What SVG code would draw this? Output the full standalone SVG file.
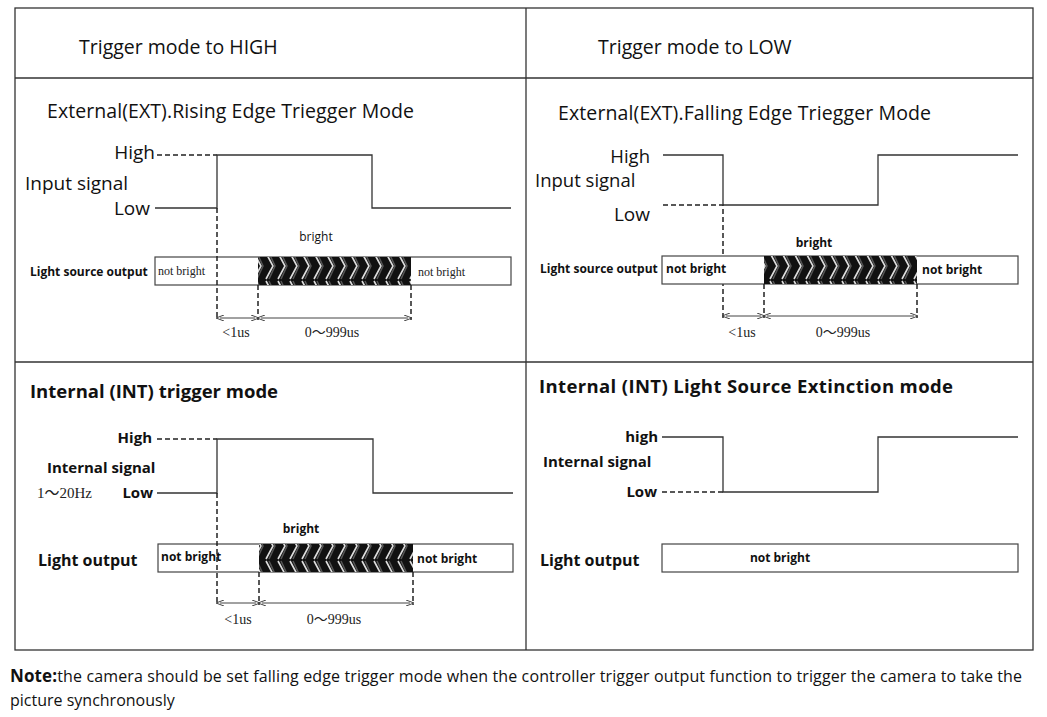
<svg xmlns="http://www.w3.org/2000/svg" width="1047" height="717" viewBox="0 0 1047 717">
<style>
.t{font-family:"Open Sans","Liberation Sans",sans-serif;fill:#111}
.s{font-family:"Liberation Serif","Noto Sans CJK SC",serif;fill:#222}
.b{font-weight:bold}
.ln{stroke:#333;stroke-width:1.3;fill:none}
.ds{stroke:#222;stroke-width:1.5;stroke-dasharray:5,3;fill:none}
.bx{stroke:#444;stroke-width:1.2;fill:#fff}
.dim{stroke:#444;stroke-width:1;fill:none;marker-start:url(#a);marker-end:url(#a)}
</style>
<defs>
<pattern id="h" width="12" height="28" patternUnits="userSpaceOnUse">
<rect width="12" height="28" fill="#111"/>
<path d="M2,1 L9,14 L2,27" stroke="#ddd" stroke-width="1.6" fill="none"/>
<path d="M5,1 L11,14 L5,27" stroke="#555" stroke-width="1.5" fill="none"/>
</pattern>
<marker id="a" markerWidth="8" markerHeight="6" refX="4" refY="3" orient="auto-start-reverse" markerUnits="userSpaceOnUse"><path d="M0,0 L8,3 L0,6" fill="none" stroke="#444"/></marker>
</defs>
<rect width="1047" height="717" fill="#fff"/>
<g id="table" class="ln">
<rect x="15" y="8" width="1018" height="642"/>
<line x1="526" y1="8" x2="526" y2="650"/>
<line x1="15" y1="78" x2="1033" y2="78"/>
<line x1="15" y1="362" x2="1033" y2="362"/>
</g>
<text class="t" x="79" y="54" font-size="19.5">Trigger mode to HIGH</text>
<text class="t" x="598" y="54" font-size="19.5">Trigger mode to LOW</text>

<g id="p1">
<text class="t" x="47" y="118" font-size="19.5" textLength="367">External(EXT).Rising Edge Triegger Mode</text>
<text class="t" x="155" y="159" font-size="19" text-anchor="end">High</text>
<text class="t" x="25" y="190" font-size="19">Input signal</text>
<text class="t" x="150" y="215" font-size="19" text-anchor="end">Low</text>
<path class="ds" d="M157,155 H217"/>
<path class="ln" d="M155,208 H217 V155 H372 V208 H511"/>
<rect class="bx" x="155" y="257" width="356" height="28"/>
<rect x="258" y="257" width="153" height="28" fill="url(#h)"/>
<text class="s" x="158" y="275" font-size="12">not bright</text>
<text class="s" x="418" y="276" font-size="12">not bright</text>
<text class="t" x="316" y="241" font-size="12" text-anchor="middle">bright</text>
<text class="t b" x="30" y="276" font-size="12">Light source output</text>
<path class="ds" d="M217,208 V320 M258,285 V320 M411,285 V320"/>
<path class="dim" d="M220,318 H255"/><path class="dim" d="M261,318 H408"/>
<text class="s" x="236" y="337" font-size="14" text-anchor="middle">&lt;1us</text>
<text class="s" x="332" y="337" font-size="14" text-anchor="middle">0～999us</text>
</g>

<g id="p2">
<text class="t" x="558" y="120" font-size="19.5" textLength="373">External(EXT).Falling Edge Triegger Mode</text>
<text class="t" x="650" y="163" font-size="18.5" text-anchor="end">High</text>
<text class="t" x="535" y="187" font-size="18.5">Input signal</text>
<text class="t" x="650" y="221" font-size="19" text-anchor="end">Low</text>
<path class="ds" d="M663,205 H723 V318"/>
<path class="ln" d="M663,155 H723 V205 H878 V155 H1018"/>
<rect class="bx" x="662" y="256" width="356" height="28"/>
<rect x="764" y="256" width="153" height="28" fill="url(#h)"/>
<text class="t b" x="666" y="273" font-size="12">not bright</text>
<text class="t b" x="922" y="274" font-size="12">not bright</text>
<text class="t b" x="814" y="247" font-size="12" text-anchor="middle">bright</text>
<text class="t b" x="540" y="273" font-size="12">Light source output</text>
<path class="ds" d="M764,284 V318 M917,284 V318"/>
<path class="dim" d="M726,316 H761"/><path class="dim" d="M767,316 H914"/>
<text class="s" x="742" y="337" font-size="14" text-anchor="middle">&lt;1us</text>
<text class="s" x="843" y="337" font-size="14" text-anchor="middle">0～999us</text>
</g>

<g id="p3">
<text class="t b" x="30" y="398" font-size="18.5">Internal (INT) trigger mode</text>
<text class="t b" x="152" y="443" font-size="15" text-anchor="end">High</text>
<text class="t b" x="47" y="473" font-size="15">Internal signal</text>
<text class="s" x="37" y="498" font-size="15">1～20Hz</text>
<text class="t b" x="153" y="498" font-size="15" text-anchor="end">Low</text>
<path class="ds" d="M157,439 H217"/>
<path class="ln" d="M157,493 H217 V439 H373 V493 H513"/>
<rect class="bx" x="158" y="544" width="355" height="28"/>
<rect x="259" y="544" width="154" height="28" fill="url(#h)"/>
<text class="t b" x="161" y="561" font-size="12">not bright</text>
<text class="t b" x="417" y="563" font-size="12">not bright</text>
<text class="t b" x="301" y="533" font-size="12" text-anchor="middle">bright</text>
<text class="t b" x="38" y="566" font-size="16">Light output</text>
<path class="ds" d="M217,493 V605 M259,572 V605 M413,572 V605"/>
<path class="dim" d="M220,603 H256"/><path class="dim" d="M262,603 H410"/>
<text class="s" x="238" y="624" font-size="14" text-anchor="middle">&lt;1us</text>
<text class="s" x="334" y="624" font-size="14" text-anchor="middle">0～999us</text>
</g>

<g id="p4">
<text class="t b" x="539" y="393" font-size="18.5" textLength="414">Internal (INT) Light Source Extinction mode</text>
<text class="t b" x="658" y="442" font-size="15" text-anchor="end">high</text>
<text class="t b" x="543" y="467" font-size="15">Internal signal</text>
<text class="t b" x="657" y="497" font-size="15" text-anchor="end">Low</text>
<path class="ds" d="M662,492 H723"/>
<path class="ln" d="M662,437 H723 V492 H878 V437 H1018"/>
<rect class="bx" x="662" y="544" width="356" height="28"/>
<text class="t b" x="780" y="562" font-size="12" text-anchor="middle">not bright</text>
<text class="t b" x="540" y="566" font-size="16">Light output</text>
</g>

<text class="t" x="10" y="682" font-size="16" textLength="1012"><tspan class="b" font-size="17">Note:</tspan>the camera should be set falling edge trigger mode when the controller trigger output function to trigger the camera to take the</text>
<text class="t" x="10" y="706" font-size="16">picture synchronously</text>
</svg>
